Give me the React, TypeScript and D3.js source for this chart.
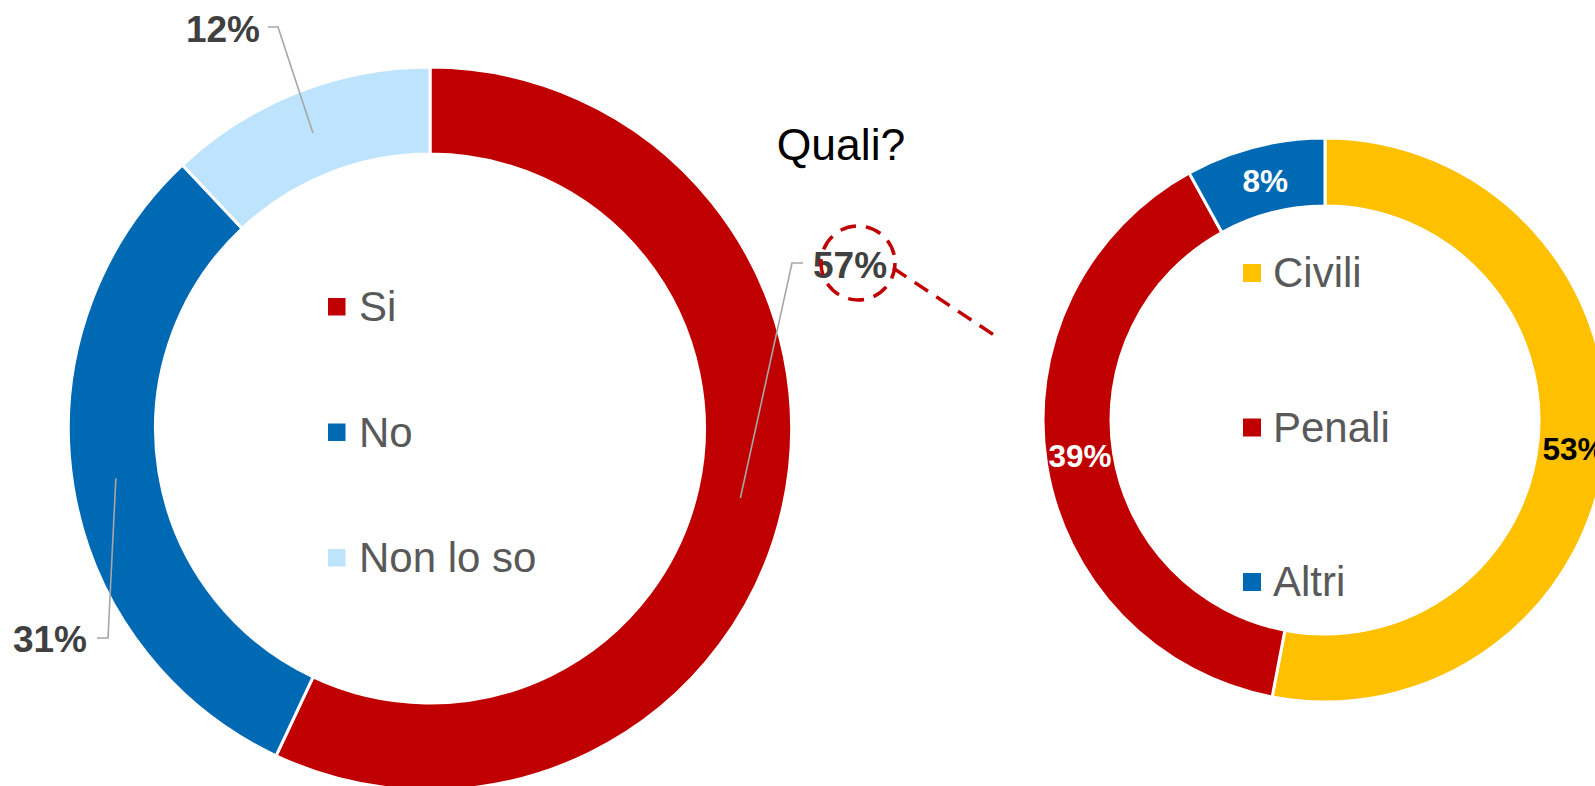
import React from "react";
import * as d3 from "d3";

const mainCategories = ["Si", "No", "Non lo so"];
const mainValues = [57, 31, 12];
const mainColors = ["#c00000", "#0069b4", "#bde4fc"];

const subCategories = ["Civili", "Penali", "Altri"];
const subValues = [53, 39, 8];
const subColors = ["#ffc000", "#c00000", "#0069b4"];
const subLabelColors = ["#000000", "#ffffff", "#ffffff"];

const subTitle = "Quali?";

const W = 1595;
const H = 786;
const FONT = "'Liberation Sans', Arial, Helvetica, sans-serif";

// layout
const main = { cx: 430, cy: 428.6, R: 361.6, r: 274.5 };
const sub = { cx: 1325, cy: 420, R: 282, r: 214 };
const subLabelShift = [{ dx: 2, dy: 6 }, { dx: 0, dy: -3 }, { dx: 2, dy: 1 }];

// label layout for outer labels of the main donut: elbow x/y, horizontal run, text side
const mainLabelLayout = [
  { ex: 792, ey: 263, hx: 803, tx: 813, ty: 278, anchor: "start" },
  { ex: 108, ey: 638, hx: 97, tx: 87, ty: 652, anchor: "end" },
  { ex: 278, ey: 27, hx: 268, tx: 260, ty: 42, anchor: "end" },
];

export default function App() {
  const pie = d3
    .pie<number>()
    .sort(null)
    .value((d) => d)
    .startAngle(0)
    .endAngle(2 * Math.PI);

  const mainArcs = pie(mainValues);
  const subArcs = pie(subValues);

  const mainArc = d3.arc<d3.PieArcDatum<number>>().innerRadius(main.r).outerRadius(main.R);
  const subArc = d3.arc<d3.PieArcDatum<number>>().innerRadius(sub.r).outerRadius(sub.R);

  const legendStepMain = 125.5;
  const legendStepSub = 154.5;

  return (
    <div style={{ position: "fixed", left: 0, top: 0, width: W, height: H, background: "#fff" }}>
      <svg width={W} height={H} style={{ display: "block", fontFamily: FONT }}>
        <rect width={W} height={H} fill="#ffffff" />
        {/* main donut */}
        <g transform={`translate(${main.cx},${main.cy})`}>
          {mainArcs.map((a, i) => (
            <path key={i} d={mainArc(a) || ""} fill={mainColors[i]} stroke="#ffffff" strokeWidth={3} />
          ))}
        </g>
        {/* leader lines + labels */}
        {mainArcs.map((a, i) => {
          const [x0, y0] = mainArc.centroid(a);
          const L = mainLabelLayout[i];
          const px = main.cx + x0;
          const py = main.cy + y0;
          return (
            <g key={"l" + i}>
              <polyline
                points={`${px},${py} ${L.ex},${L.ey} ${L.hx},${L.ey}`}
                fill="none"
                stroke="#a6a6a6"
                strokeWidth={1.6}
              />
              <text
                x={L.tx}
                y={L.ty}
                textAnchor={L.anchor as any}
                fontSize={37}
                fontWeight="bold"
                fill="#404040"
              >
                {d3.format(".0%")(a.data / 100)}
              </text>
            </g>
          );
        })}
        {/* main legend */}
        {mainCategories.map((c, i) => (
          <g key={"ml" + i} transform={`translate(328,${321 + i * legendStepMain})`}>
            <rect x={0} y={-23} width={17.5} height={17.5} fill={mainColors[i]} />
            <text x={31} y={0} fontSize={42} fill="#595959">
              {c}
            </text>
          </g>
        ))}
        {/* callout */}
        <circle cx={858} cy={263} r={37} fill="none" stroke="#c00000" strokeWidth={3.5} strokeDasharray="16 10" />
        <line x1={893} y1={268} x2={997} y2={337} stroke="#c00000" strokeWidth={3.5} strokeDasharray="16 10" />
        {/* title */}
        <text x={841} y={160} textAnchor="middle" fontSize={44.5} fill="#000000">
          {subTitle}
        </text>
        {/* sub donut */}
        <g transform={`translate(${sub.cx},${sub.cy})`}>
          {subArcs.map((a, i) => (
            <path key={i} d={subArc(a) || ""} fill={subColors[i]} stroke="#ffffff" strokeWidth={3} />
          ))}
          {subArcs.map((a, i) => {
            const [x, y] = subArc.centroid(a);
            return (
              <text
                key={"t" + i}
                x={x + subLabelShift[i].dx}
                y={y + subLabelShift[i].dy}
                dy="0.35em"
                textAnchor="middle"
                fontSize={31.5}
                fontWeight="bold"
                fill={subLabelColors[i]}
              >
                {d3.format(".0%")(a.data / 100)}
              </text>
            );
          })}
        </g>
        {/* sub legend */}
        {subCategories.map((c, i) => (
          <g key={"sl" + i} transform={`translate(1243,${287 + i * legendStepSub})`}>
            <rect x={0} y={-23} width={18} height={18} fill={subColors[i]} />
            <text x={30} y={0} fontSize={42} fill="#595959">
              {c}
            </text>
          </g>
        ))}
      </svg>
    </div>
  );
}
